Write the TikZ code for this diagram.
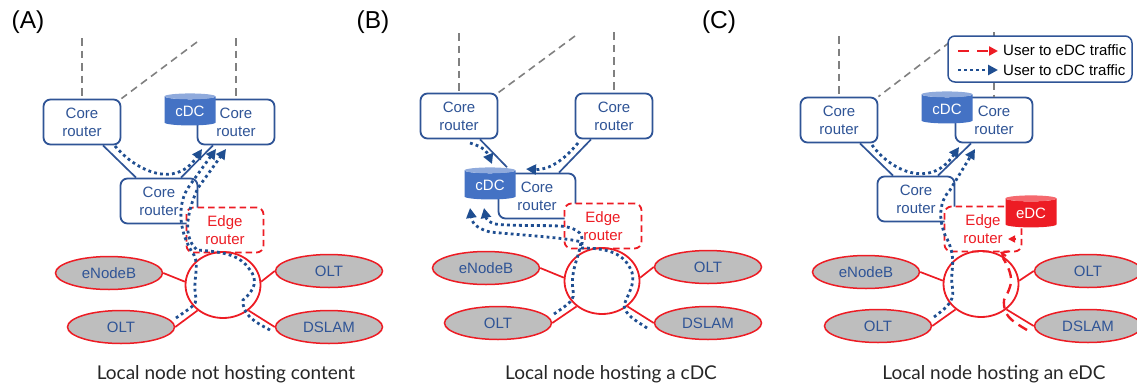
\documentclass[tikz,border=0pt]{standalone}
\usepackage{fontspec}
\setmainfont{Liberation Sans}
\newfontfamily\capfont{Lato}
\usetikzlibrary{arrows.meta,shapes.geometric}
\definecolor{cblue}{RGB}{47,84,150}
\definecolor{dkblue}{RGB}{31,78,145}
\definecolor{cfill}{RGB}{68,114,196}
\definecolor{ctop}{RGB}{143,170,220}
\definecolor{cred}{RGB}{237,28,36}
\definecolor{etop}{RGB}{245,105,110}
\definecolor{egray}{RGB}{190,190,190}
\definecolor{ggray}{RGB}{128,128,128}
\tikzset{
  corebox/.style={draw=cblue,line width=1.8pt,rounded corners=7pt,minimum width=77pt,minimum height=45pt,fill=white,text=cblue,font=\fontsize{15}{18}\selectfont,align=center,inner sep=0pt},
  edgebox/.style={draw=cred,fill=white,line width=1.8pt,dash pattern=on 6.5pt off 4pt,rounded corners=7pt,minimum width=77pt,minimum height=45pt,text=cred,font=\fontsize{15}{18}\selectfont,align=center,inner sep=0pt},
  hub/.style={ellipse,draw=cred,line width=1.8pt,minimum width=75pt,minimum height=66pt,inner sep=0pt},
  access/.style={ellipse,draw=cred,line width=1.5pt,fill=egray,minimum width=107pt,minimum height=33pt,text=cblue,font=\fontsize{15}{17}\selectfont,inner sep=0pt},
  dc/.style={cylinder,shape border rotate=90,aspect=0.2,minimum width=51pt,minimum height=32pt,inner sep=0pt,cylinder uses custom fill,text=white,font=\fontsize{15}{17}\selectfont},
  cdc/.style={dc,cylinder body fill=cfill,cylinder end fill=ctop},
  edc/.style={dc,cylinder body fill=cred,cylinder end fill=etop},
  uplink/.style={draw=ggray,line width=1.6pt,dash pattern=on 7.5pt off 5pt},
  coreline/.style={draw=cblue,line width=1.7pt},
  redline/.style={draw=cred,line width=1.7pt},
  cflow/.style={draw=dkblue,line width=2.8pt,dash pattern=on 2.8pt off 3.2pt,-{Triangle[length=10pt,width=10pt]}},
  eflow/.style={draw=cred,line width=2.4pt,dash pattern=on 10pt off 6pt},
  captext/.style={font=\capfont\fontsize{19}{22}\selectfont,text=black!85},
  tagtext/.style={font=\fontsize{24.5}{28}\selectfont,text=black},
}
\begin{document}
\begin{tikzpicture}[x=1pt,y=-1pt]
\useasboundingbox (0,0) rectangle (1137,388);
% ---------- A ----------
\node[corebox] (ac1) at (82,122) {Core\\router};
\node[corebox] (ac2) at (236,122) {Core\\router};
\node[corebox] (ac3) at (159,201) {Core\\router};
\coordinate (au1) at (82,38); \coordinate (au2) at (197,42); \coordinate (au3) at (236,38);
\draw[uplink] (au1) -- (ac1.north);
\draw[uplink] (au2) -- (ac1.north east);
\draw[uplink] (au3) -- (ac2.north);
\draw[coreline] ([xshift=21pt]ac1.south) -- ([xshift=-23pt]ac3.north);
\draw[coreline] ([xshift=-23pt]ac2.south) -- ([xshift=22pt]ac3.north);
\node[cdc] (adc) at (190,111) {cDC};
\node[edgebox] (ae) at (225,230) {Edge\\router};
\node[hub] (ah) at (223,285) {};
\node[access] (a1) at (109,273) {eNodeB};
\node[access] (a2) at (329,271) {OLT};
\node[access] (a3) at (121,327) {OLT};
\node[access] (a4) at (329,327) {DSLAM};
\draw[redline] (a1.east) -- (ah.175);
\draw[redline] (a2.west) -- (ah.5);
\draw[redline] (a3.east) -- (ah.225);
\draw[redline] (a4.west) -- (ah.315);
\draw[cflow] (115,146) .. controls (135,170) and (175,190) .. (202,149);
\draw[cflow] (176,318) .. controls (190,308) and (197,305) .. (196,298) .. controls (192,280) and (200,268) .. (194,255) .. controls (180,235) and (175,205) .. (190,185) -- (216,149);
\draw[cflow] (270,330) .. controls (255,322) and (242,315) .. (243,300) .. controls (255,290) and (258,280) .. (250,270) .. controls (240,255) and (225,252) .. (197,250) .. controls (180,235) and (190,205) .. (198,188) -- (226,149);
\node[tagtext] (ta) at (28,22) {(A)};
\node[captext] (ca) at (226,374) {Local node not hosting content};
% ---------- B ----------
\node[corebox] (bc1) at (459,116) {Core\\router};
\node[corebox] (bc2) at (614,116) {Core\\router};
\node[corebox] (bc3) at (537,196) {Core\\router};
\coordinate (bu1) at (459,33); \coordinate (bu2) at (575,36); \coordinate (bu3) at (614,32);
\draw[uplink] (bu1) -- (bc1.north);
\draw[uplink] (bu2) -- (bc1.north east);
\draw[uplink] (bu3) -- (bc2.north);
\node[cdc] (bdc) at (490,185) {cDC};
\draw[coreline] ([xshift=21pt]bc1.south) -- ([xshift=17pt]bdc.north);
\draw[coreline] ([xshift=-23pt]bc2.south) -- ([xshift=22pt]bc3.north);
\node[edgebox] (be) at (603,226) {Edge\\router};
\node[hub] (bh) at (602,281) {};
\node[access] (b1) at (486,268) {eNodeB};
\node[access] (b2) at (708,267) {OLT};
\node[access] (b3) at (498,323) {OLT};
\node[access] (b4) at (708,323) {DSLAM};
\draw[redline] (b1.east) -- (bh.175);
\draw[redline] (b2.west) -- (bh.5);
\draw[redline] (b3.east) -- (bh.225);
\draw[redline] (b4.west) -- (bh.315);
\draw[cflow] (470,143) .. controls (484,147) and (487,152) .. (492,164);
\draw[cflow] (578,143) .. controls (560,165) and (545,170) .. (526,169);
\draw[cflow] (554,314) .. controls (570,303) and (575,300) .. (573,290) .. controls (570,270) and (580,255) .. (581,242) .. controls (570,238) and (520,235) .. (490,232) .. controls (475,228) and (472,222) .. (470,208);
\draw[cflow] (647,328) .. controls (635,320) and (625,315) .. (624,305) .. controls (630,290) and (637,280) .. (630,268) .. controls (622,252) and (605,248) .. (581,248) .. controls (585,235) and (580,228) .. (560,226) .. controls (530,225) and (510,226) .. (495,224) .. controls (488,222) and (486,218) .. (484,208);
\node[tagtext] (tb) at (373,22) {(B)};
\node[captext] (cb) at (611,374) {Local node hosting a cDC};
% ---------- C ----------
\node[corebox] (cc1) at (839,120) {Core\\router};
\node[corebox] (cc2) at (994,120) {Core\\router};
\node[corebox] (cc3) at (916,199) {Core\\router};
\coordinate (cu1) at (839,36); \coordinate (cu2) at (950,42); \coordinate (cu3) at (994,32);
\draw[uplink] (cu1) -- (cc1.north);
\draw[uplink] (cu2) -- (cc1.north east);
\draw[uplink] (cu3) -- (cc2.north);
\draw[coreline] ([xshift=21pt]cc1.south) -- ([xshift=-23pt]cc3.north);
\draw[coreline] ([xshift=-23pt]cc2.south) -- ([xshift=22pt]cc3.north);
\node[cdc] (cdcn) at (947,109) {cDC};
\node[edgebox] (ce) at (983,229) {Edge\\router};
\node[edc] (cedc) at (1031,213) {eDC};
\node[hub] (ch) at (981,284) {};
\node[access] (c1) at (866,272) {eNodeB};
\node[access] (c2) at (1088,271) {OLT};
\node[access] (c3) at (878,326) {OLT};
\node[access] (c4) at (1088,326) {DSLAM};
\draw[redline] (c1.east) -- (ch.175);
\draw[redline] (c2.west) -- (ch.5);
\draw[redline] (c3.east) -- (ch.225);
\draw[redline] (c4.west) -- (ch.315);
\draw[cflow] (872,145) .. controls (890,170) and (930,190) .. (959,147);
\draw[cflow] (934,317) .. controls (950,305) and (955,300) .. (952,285) .. controls (950,270) and (958,258) .. (945,235) .. controls (935,210) and (945,195) .. (950,190) -- (975,149);
\draw[eflow] (1027,330) .. controls (1010,320) and (1003,315) .. (1004,300) .. controls (1012,285) and (1015,278) .. (1003,258);
\draw[cred,line width=2pt,-{Straight Barb[length=6pt,width=9pt]}] (1006,256) .. controls (1004,254) .. (1000,252);
\draw[cred,line width=1.5pt,-{Triangle[length=7pt,width=7pt]}] (1016,239) -- (1008,239);
\node[draw=cblue,line width=1.5pt,rounded corners=7pt,fill=white,minimum width=184pt,minimum height=46pt] (leg) at (1040,59) {};
\node[anchor=west,font=\fontsize{15}{17}\selectfont,inner sep=1pt] (l1) at (1002,50) {User to eDC traffic};
\node[anchor=west,font=\fontsize{15}{17}\selectfont,inner sep=1pt] (l2) at (1002,70) {User to cDC traffic};
\coordinate (ls1) at (958,51); \coordinate (ls2) at (998,51);
\coordinate (ls3) at (958,70); \coordinate (ls4) at (998,70);
\draw[draw=cred,line width=2.4pt,dash pattern=on 11pt off 8pt,-{Triangle[length=9pt,width=9pt]}] (ls1) -- (ls2);
\draw[cflow] (ls3) -- (ls4);
\node[tagtext] (tc) at (719,22) {(C)};
\node[captext] (cc) at (994,374) {Local node hosting an eDC};
\end{tikzpicture}
\end{document}
